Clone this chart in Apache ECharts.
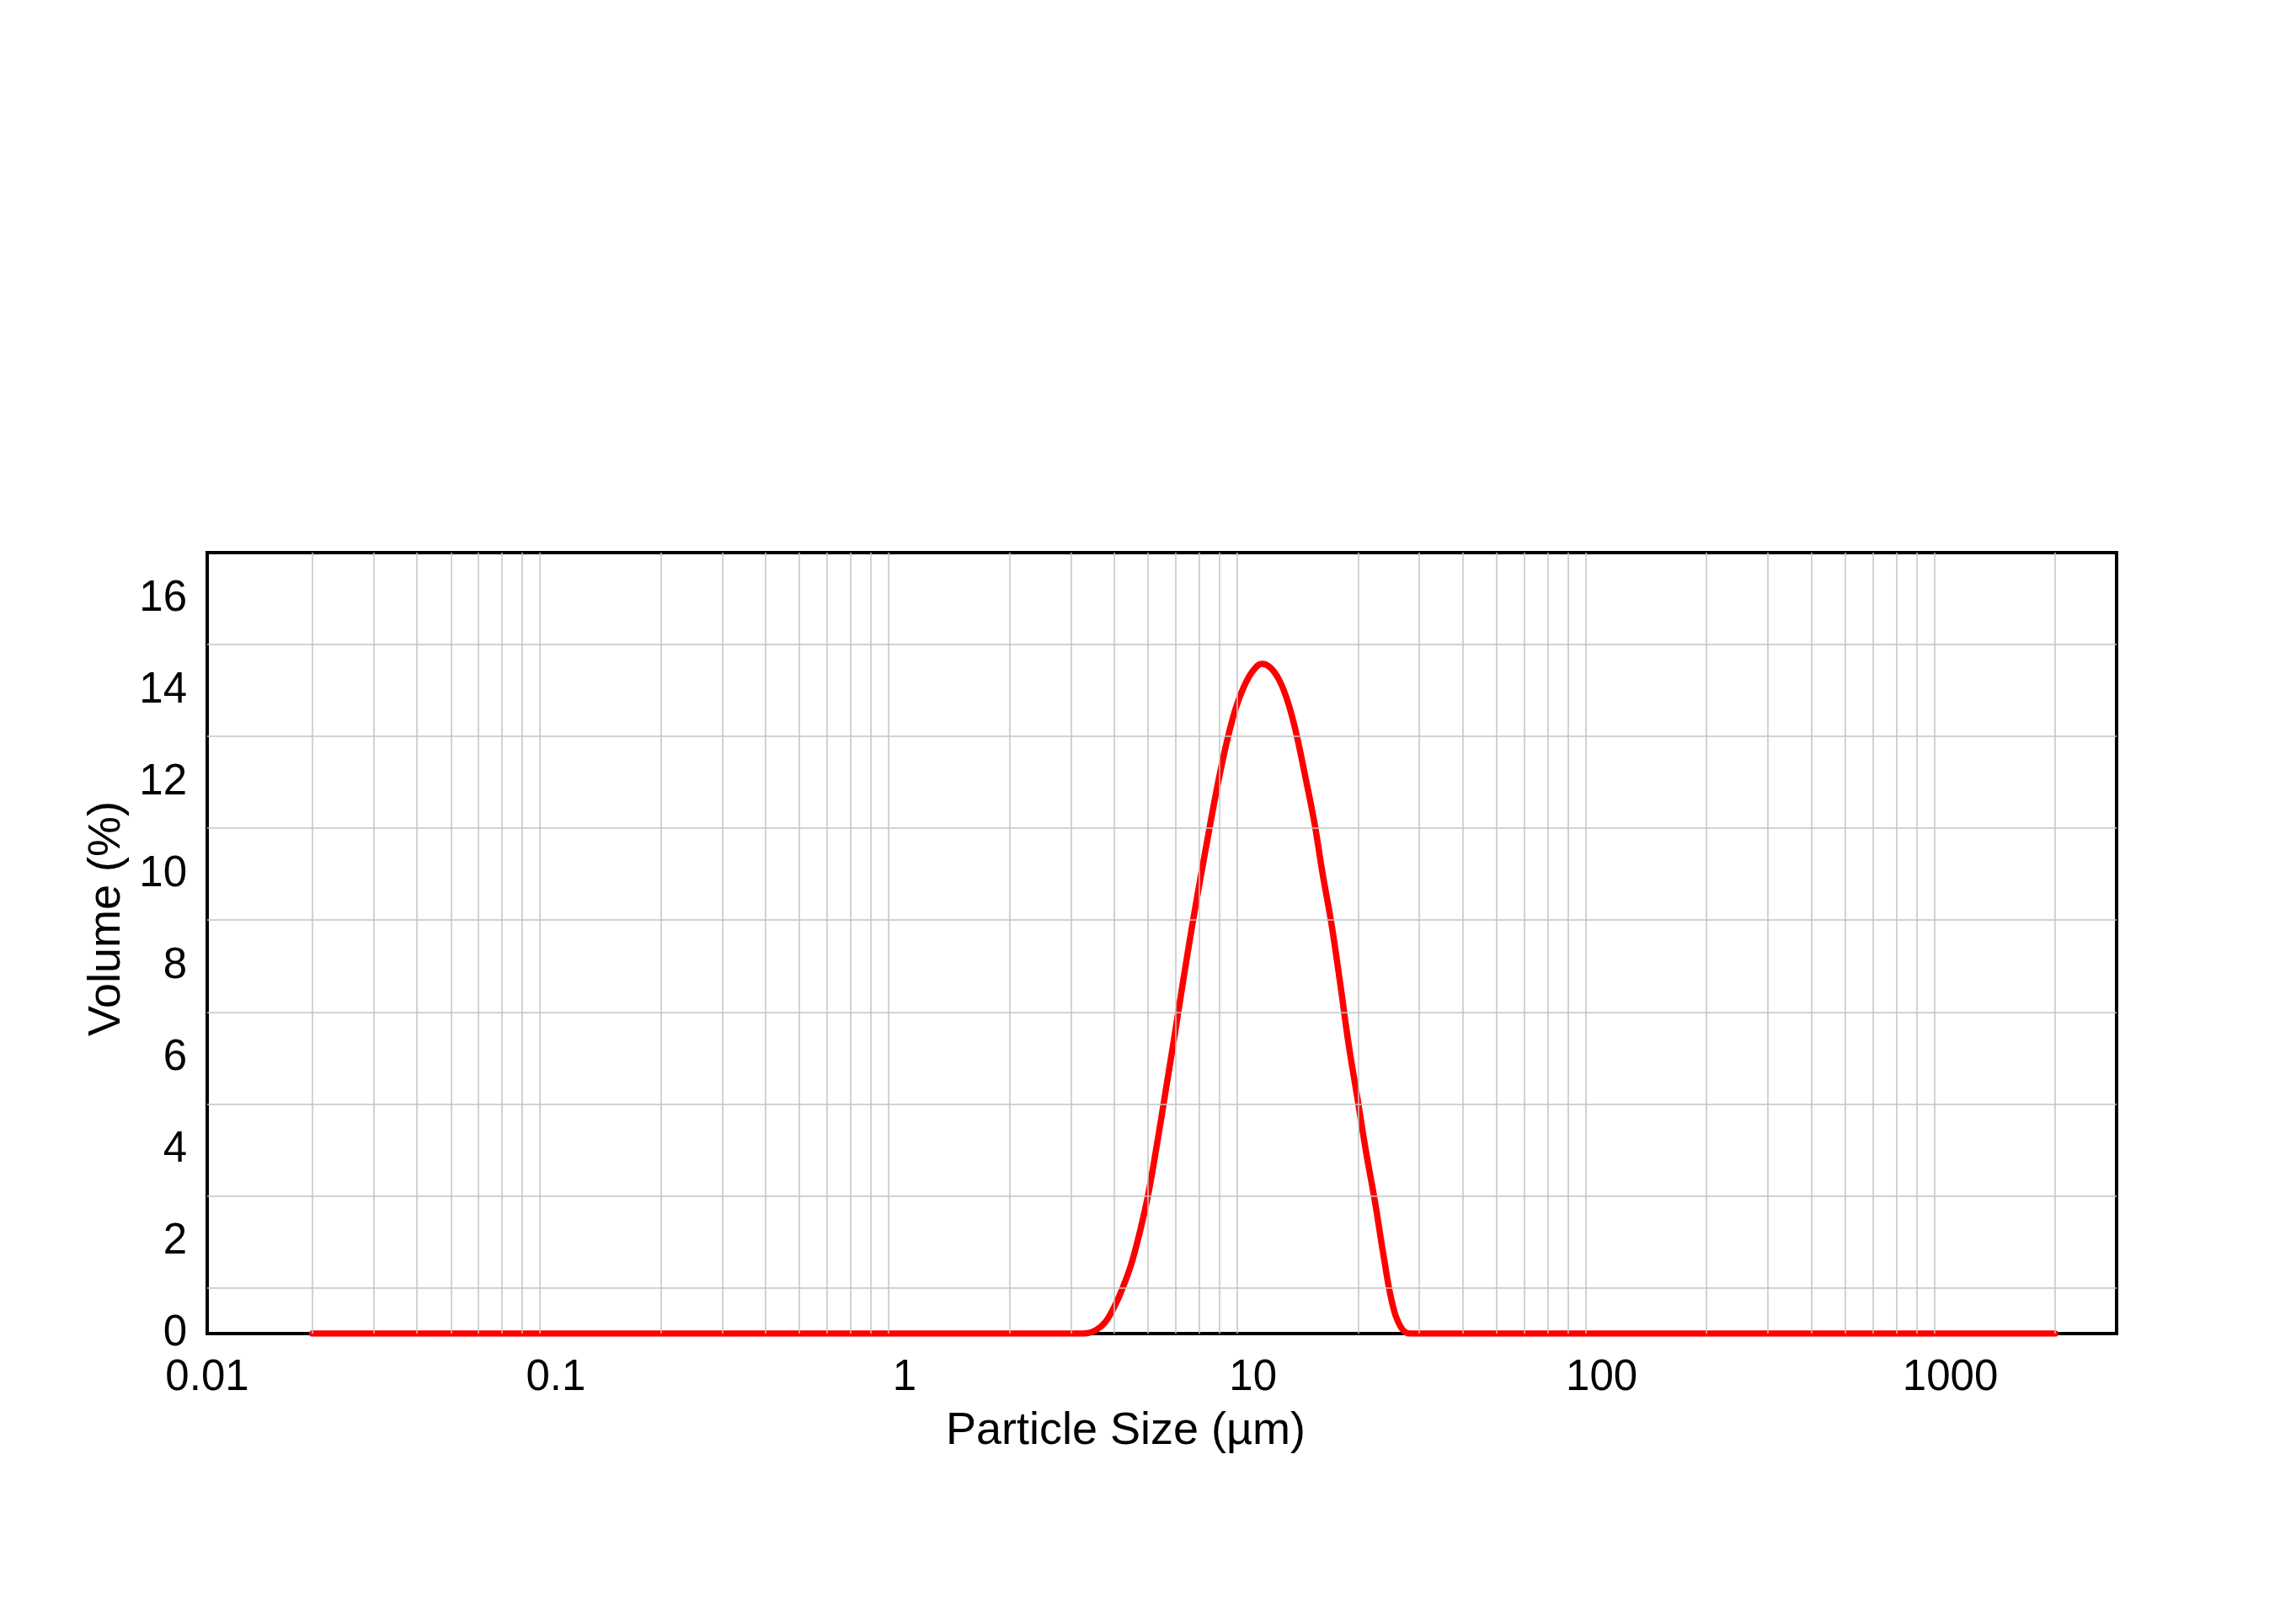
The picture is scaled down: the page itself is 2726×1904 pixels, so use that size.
<!DOCTYPE html>
<html>
<head>
<meta charset="utf-8">
<script src="https://cdn.jsdelivr.net/npm/echarts@6/dist/echarts.min.js"></script>
<style>
html,body{margin:0;padding:0;background:#ffffff;}
#chart{width:2726px;height:1904px;}
</style>
</head>
<body>
<div id="chart"></div>
<script>
// Particle size (µm) size classes used for the reading of the reference curve
const sizes = [0.02, 2.82, 2.98, 3.16, 3.35, 3.55, 3.76, 3.98, 4.22, 4.47, 4.73, 5.01, 5.31, 5.62, 5.96,
               6.31, 6.68, 7.08, 7.50, 7.94, 8.41, 8.91, 9.44, 10.0, 10.6, 11.2, 11.9, 12.6, 13.3,
               14.1, 15.0, 15.8, 16.8, 17.8, 18.8, 20.0, 21.1, 22.4, 23.7, 25.1, 26.6, 28.2, 29.9, 31.6, 2000];
// Volume (%) read at each size
const volumes = [0, 0, 0, 0, 0.01, 0.08, 0.24, 0.55, 0.98, 1.5, 2.2, 3.05, 4.15, 5.3, 6.5,
                 7.7, 8.85, 9.95, 11.0, 12.0, 12.88, 13.6, 14.1, 14.43, 14.58, 14.5, 14.22, 13.74, 13.07,
                 12.15, 11.12, 10.05, 8.9, 7.6, 6.3, 5.05, 3.95, 2.85, 1.68, 0.65, 0.13, 0, 0, 0, 0];

// Axis ranges and tick labels
const xMin = 0.01, xMax = 3000;
const yMin = 0, yMax = 17, yStep = 2;
const xTickLabels = ['0.01', '0.1', '1', '10', '100', '1000'];
// Gridline positions (minor lines only, as in the reference)
const xGridValues = [0.02,0.03,0.04,0.05,0.06,0.07,0.08,0.09,
                     0.2,0.3,0.4,0.5,0.6,0.7,0.8,0.9,
                     2,3,4,5,6,7,8,9,
                     20,30,40,50,60,70,80,90,
                     200,300,400,500,600,700,800,900,
                     2000];
const yGridValues = [1, 3, 5, 7, 9, 11, 13, 15];

const FONT = "'Liberation Sans', Arial, Helvetica, sans-serif";

const chart = echarts.init(document.getElementById('chart'), null, {renderer: 'canvas'});

const points = sizes.map((s, i) => [s, volumes[i]]);
const gridMarks = xGridValues.map(v => ({xAxis: v})).concat(yGridValues.map(v => ({yAxis: v})));

chart.setOption({
  animation: false,
  backgroundColor: '#ffffff',
  grid: {
    left: 246, right: 213, top: 656, bottom: 321,
    show: true, borderColor: '#000000', borderWidth: 4,
    backgroundColor: 'transparent',
    outerBoundsMode: 'none'
  },
  xAxis: {
    type: 'log', logBase: 10, min: xMin, max: xMax,
    axisLine: {show: false},
    axisTick: {show: false},
    splitLine: {show: false},
    axisLabel: {
      color: '#000', fontFamily: FONT, fontSize: 51, margin: 27,
      showMaxLabel: false,
      formatter: function (v) {
        const idx = Math.round(Math.log10(v)) + 2;
        return xTickLabels[idx] !== undefined ? xTickLabels[idx] : '';
      }
    },
    name: 'Particle Size (µm)',
    nameLocation: 'middle',
    nameGap: 89,
    nameTextStyle: {color: '#000', fontFamily: FONT, fontSize: 54, padding: [0, 86, 0, 0]}
  },
  yAxis: {
    type: 'value', min: yMin, max: yMax, interval: yStep,
    axisLine: {show: false},
    axisTick: {show: false},
    splitLine: {show: false},
    axisLabel: {
      color: '#000', fontFamily: FONT, fontSize: 51, margin: 24,
      showMaxLabel: false,
      padding: [0, 0, 8, 0]
    },
    name: 'Volume (%)',
    nameLocation: 'middle',
    nameGap: 84,
    nameTextStyle: {color: '#000', fontFamily: FONT, fontSize: 54, padding: [0, 0, 0, 58]}
  },
  series: [
    {
      name: 'grid',
      type: 'line',
      z: 1,
      silent: true,
      data: [[sizes[0], volumes[0]]],
      showSymbol: false,
      lineStyle: {opacity: 0},
      markLine: {
        silent: true,
        symbol: ['none', 'none'],
        label: {show: false},
        lineStyle: {color: '#c3c3c3', width: 1.5, type: 'solid'},
        emphasis: {disabled: true},
        data: gridMarks
      }
    },
    {
      name: 'Volume',
      type: 'line',
      z: 3,
      data: points,
      showSymbol: false,
      smooth: 0.4,
      lineStyle: {color: '#ff0000', width: 7.5, cap: 'round', join: 'round'},
      itemStyle: {color: '#ff0000'}
    }
  ]
});
</script>
</body>
</html>
